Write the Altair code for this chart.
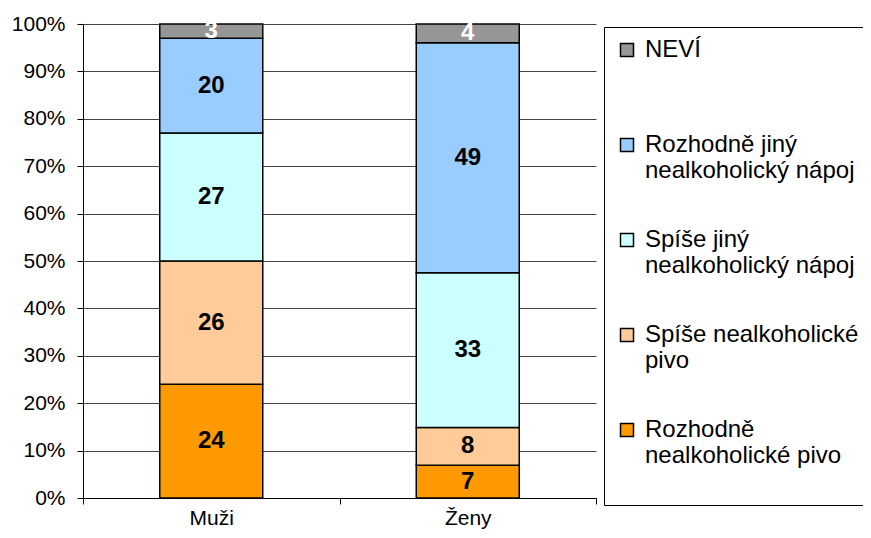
import altair as alt
import pandas as pd

groups = ["Muži", "Ženy"]
# bottom to top
categories = [
    "Rozhodně nealkoholické pivo",
    "Spíše nealkoholické pivo",
    "Spíše jiný nealkoholický nápoj",
    "Rozhodně jiný nealkoholický nápoj",
    "NEVÍ",
]
colors = ["#FF9900", "#FFCC99", "#CCFFFF", "#99CCFF", "#969696"]
muzi = [24, 26, 27, 20, 3]
zeny = [7, 8, 33, 49, 4]

legend_lines = {
    "NEVÍ": ["NEVÍ", " "],
    "Rozhodně jiný nealkoholický nápoj": ["Rozhodně jiný", "nealkoholický nápoj"],
    "Spíše jiný nealkoholický nápoj": ["Spíše jiný", "nealkoholický nápoj"],
    "Spíše nealkoholické pivo": ["Spíše nealkoholické", "pivo"],
    "Rozhodně nealkoholické pivo": ["Rozhodně", "nealkoholické pivo", " "],
}

rows = []
for g, vals in zip(groups, [muzi, zeny]):
    for i, (c, v) in enumerate(zip(categories, vals)):
        rows.append({"group": g, "cat": c, "value": v, "rank": i})
df = pd.DataFrame(rows)

expr = ""
for k, v in legend_lines.items():
    arr = ", ".join(f"'{s}'" for s in v)
    expr += f"datum.label == '{k}' ? [{arr}] : "
expr += "datum.label"

FONT = "Liberation Sans"

base = alt.Chart(df).transform_stack(
    stack="value", groupby=["group"], sort=[alt.SortField("rank")],
    as_=["y0", "y1"], offset="normalize"
).transform_calculate(mid="(datum.y0 + datum.y1) / 2")

xenc = alt.X("group:N", sort=groups, title=None,
             scale=alt.Scale(paddingInner=0, paddingOuter=0),
             axis=alt.Axis(labelAngle=0, labelFontSize=21, labelFont=FONT, labelColor="black",
                           tickBand="extent", tickColor="black", tickSize=6,
                           domainColor="black", labelPadding=3, grid=False))

bars = base.mark_bar(size=103, stroke="black", strokeWidth=1.5).encode(
    x=xenc,
    y=alt.Y("y0:Q", title=None, scale=alt.Scale(domain=[0, 1]),
            axis=alt.Axis(format="%", values=[i / 10 for i in range(11)], labelFontSize=21,
                          labelFont=FONT, labelColor="black", tickColor="black", tickSize=6,
                          domainColor="black", gridColor="#444444", labelPadding=12)),
    y2="y1:Q",
    color=alt.Color("cat:N", scale=alt.Scale(domain=categories[::-1], range=colors[::-1]),
                    legend=alt.Legend(title=None, orient="none", legendX=521, legendY=3,
                                      strokeColor="black", padding=11, symbolType="square",
                                      symbolSize=169, symbolStrokeColor="black",
                                      symbolStrokeWidth=1.5, labelFontSize=24, labelFont=FONT,
                                      labelColor="black", labelExpr=expr,
                                      rowPadding=45, labelLimit=400, labelOffset=6)),
    order=alt.Order("rank:Q"),
)

text = base.mark_text(fontSize=24, fontWeight="bold", font=FONT, baseline="middle").encode(
    x=alt.X("group:N", sort=groups),
    y="mid:Q",
    text="value:Q",
    color=alt.condition(alt.datum.cat == "NEVÍ", alt.value("white"), alt.value("black")),
)

chart = alt.layer(bars, text).properties(
    width=513, height=474,
    padding={"left": 75, "top": 16, "right": 267, "bottom": 32},
    autosize="none",
).configure_view(stroke=None).configure_axis(gridWidth=1)

chart.save("out.html", embed_options={"renderer": "svg", "actions": False})
